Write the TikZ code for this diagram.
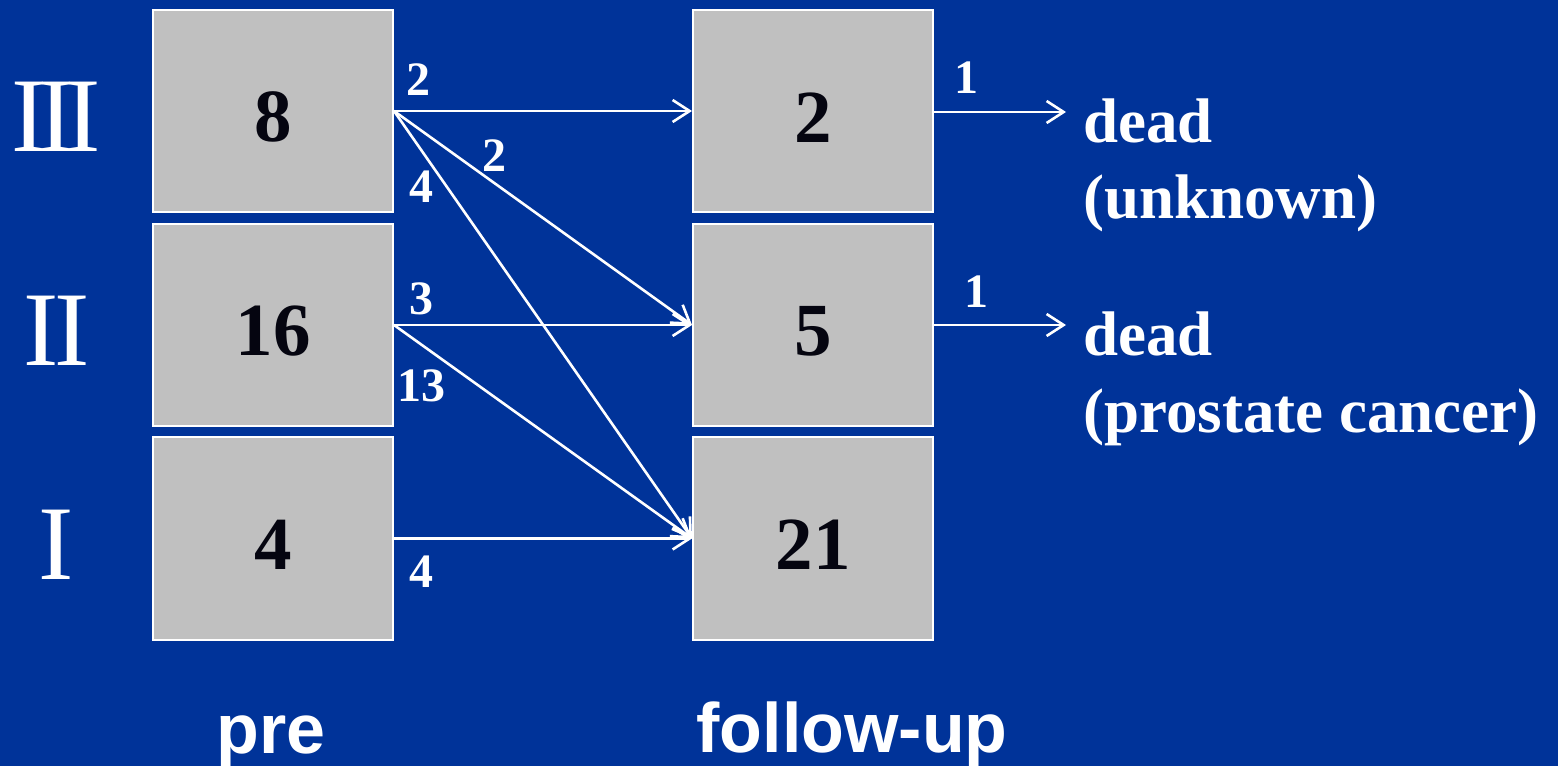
\documentclass[tikz,border=0pt]{standalone}
\usepackage{fontspec}
\setmainfont{Liberation Serif}
\newfontfamily\headfont{Liberation Sans}
\usetikzlibrary{arrows.meta}
\definecolor{bg}{HTML}{003399}
\definecolor{boxgray}{HTML}{C0C0C0}
\definecolor{digitc}{HTML}{050510}
\begin{document}
\begin{tikzpicture}[x=1pt,y=-1pt,
  stagebox/.style={rectangle, draw=white, line width=2pt, fill=boxgray,
    minimum width=240pt, minimum height=202pt, inner sep=0pt, text=digitc,
    font=\fontsize{75}{80}\selectfont\bfseries, text height=62pt},
  flow/.style={draw=white, line width=2.6pt, -{Straight Barb[length=17pt,width=22pt]}},
  count/.style={text=white, font=\fontsize{48}{50}\selectfont\bfseries, inner sep=0pt},
  romanlbl/.style={text=white, font=\fontsize{106}{110}\selectfont, inner sep=0pt},
  outcome/.style={text=white, font=\fontsize{63}{76}\selectfont\bfseries, inner sep=0pt, anchor=base west},
  axislbl/.style={text=white, font=\headfont\bfseries\fontsize{70}{80}\selectfont, inner sep=0pt, anchor=base}]
\fill[bg] (0,0) rectangle (1558,766);
\useasboundingbox (0,0) rectangle (1558,766);

% stage labels
\node[romanlbl] (rIII) at (56,117) {I\kern-8pt I\kern-8pt I};
\node[romanlbl] (rII) at (56.5,331) {I\kern-4pt I};
\node[romanlbl] (rI) at (56.5,545) {I};

% boxes
\node[stagebox] (pIII) at (273,111) {8};
\node[stagebox] (pII) at (273,325) {16};
\node[stagebox, minimum height=203pt] (pI) at (273,538.5) {4};
\node[stagebox] (fIII) at (813,111) {2};
\node[stagebox] (fII) at (813,325) {5};
\node[stagebox, minimum height=203pt] (fI) at (813,538.5) {21};

% flows
\draw[flow] (pIII.east) -- (fIII.west);
\draw[flow] (pIII.east) -- (fII.west);
\draw[flow] (pIII.east) -- (fI.west);
\draw[flow] (pII.east) -- (fII.west);
\draw[flow] (pII.east) -- (fI.west);
\draw[flow] (pI.east) -- (fI.west);

\coordinate (dA) at (1066,112);
\coordinate (dB) at (1066,325);
\draw[flow] (fIII.east |- dA) -- (dA);
\draw[flow] (fII.east) -- (dB);

% counts
\node[count] (c1) at (418,80) {2};
\node[count] (c2) at (494,156) {2};
\node[count] (c3) at (421,187) {4};
\node[count] (c4) at (421,299) {3};
\node[count] (c5) at (421,386) {13};
\node[count] (c6) at (421,572) {4};
\node[count] (c7) at (966,78) {1};
\node[count] (c8) at (976,292) {1};

% outcomes
\node[outcome] (o1a) at (1083,142) {dead};
\node[outcome] (o1b) at (1083,218) {(unknown)};
\node[outcome] (o2a) at (1083,355) {dead};
\node[outcome] (o2b) at (1083,432) {(prostate cancer)};

% axis labels
\node[axislbl] (pre) at (271,753) {pre};
\node[axislbl] (fu) at (852,752) {follow-up};
\end{tikzpicture}
\end{document}
